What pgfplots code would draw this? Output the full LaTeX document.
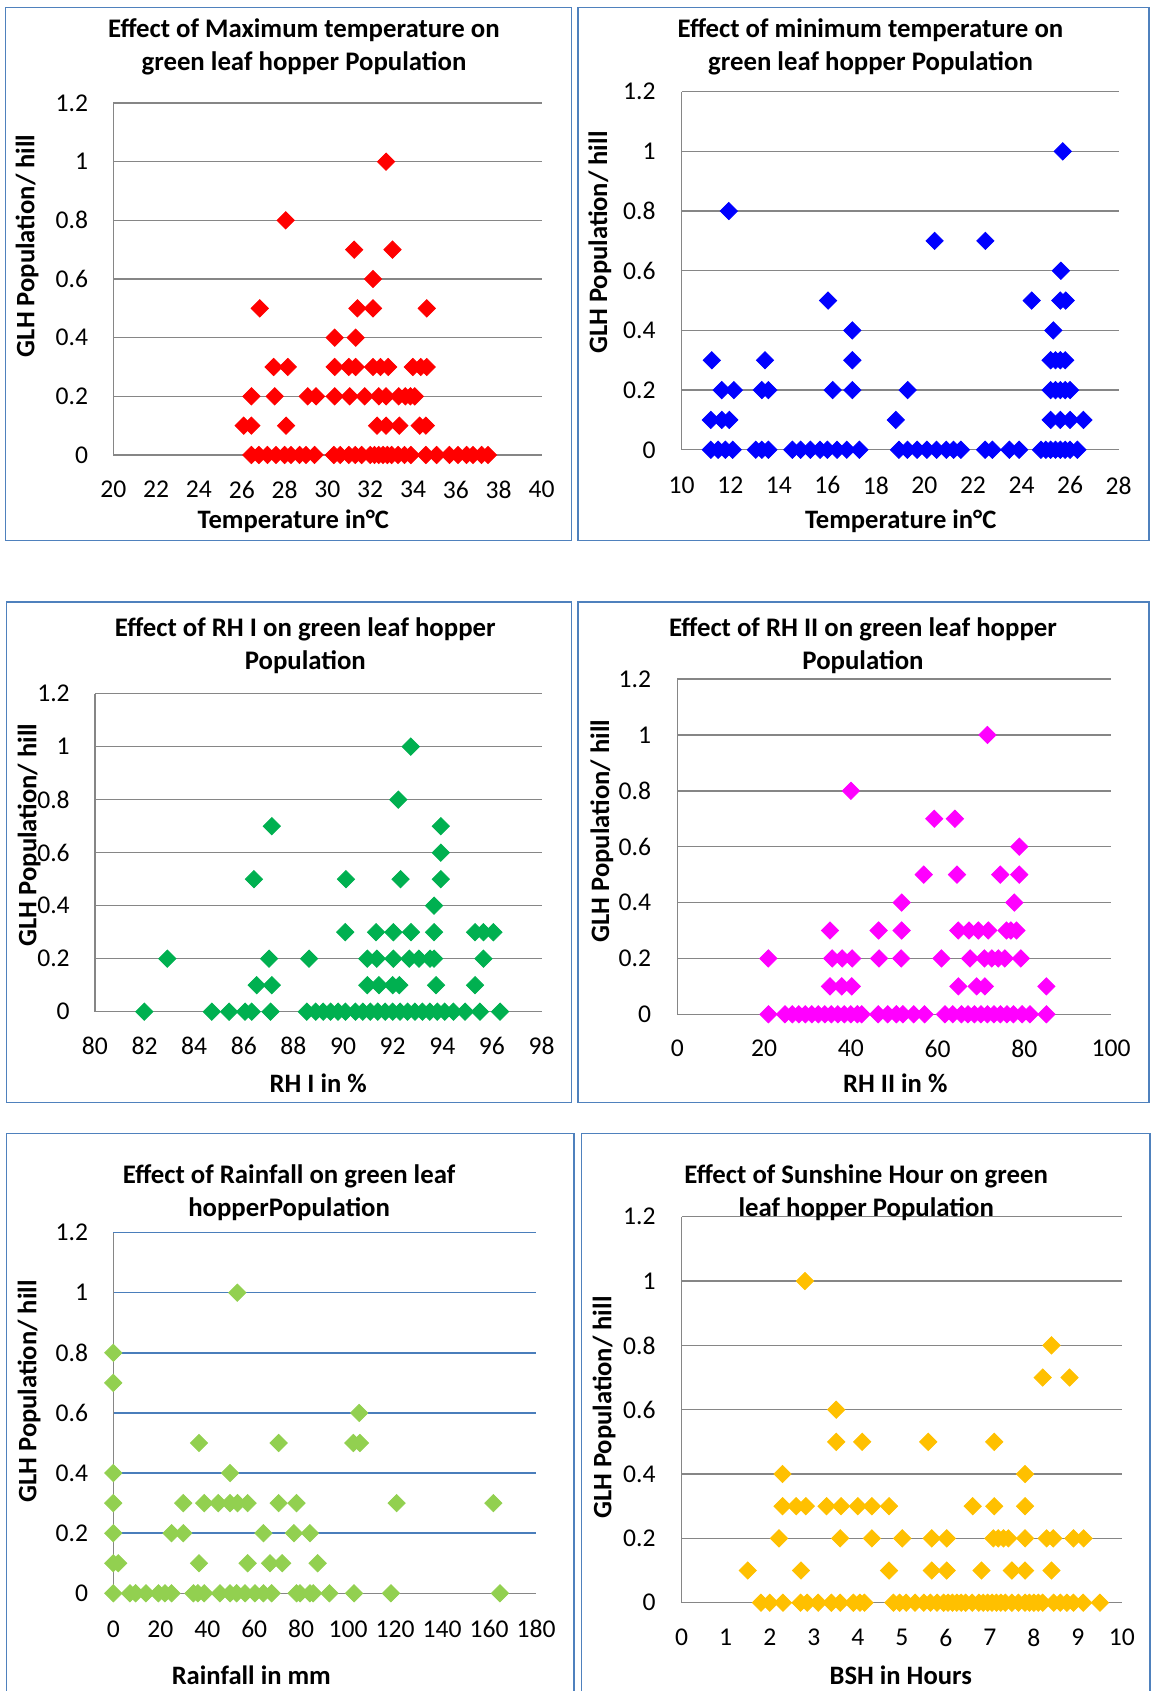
\documentclass[border=0pt]{standalone}
\usepackage{fontspec}
\setmainfont{Carlito}
\usepackage{pgfplots}
\pgfplotsset{compat=1.18}
\definecolor{framec}{RGB}{79,129,189}
\definecolor{gridgray}{RGB}{134,134,134}
\definecolor{gridblue}{RGB}{74,126,187}
\definecolor{cred}{RGB}{255,0,0}
\definecolor{cblue}{RGB}{0,0,255}
\definecolor{cmag}{RGB}{255,0,255}
\definecolor{cgreen}{RGB}{0,176,80}
\definecolor{clgreen}{RGB}{146,208,80}
\definecolor{cgold}{RGB}{255,192,0}
\pgfplotsset{
  every axis title shift=0pt,
  panel/.style={
    scale only axis, clip=false,
    axis lines*=left,
    axis line style={draw=gridgray, line width=0.7pt},
    ymajorgrids, major grid style={draw=gridgray, line width=0.7pt},
    ymin=0, ymax=1.2, ytick={0,0.2,0.4,0.6,0.8,1,1.2},
    major tick length=0pt,
    /pgf/number format/assume math mode=true,
    tick label style={font=\fontsize{12.8}{14}\selectfont},
    yticklabel style={anchor=east, inner sep=0pt, /pgf/number format/fixed, /pgf/number format/precision=1},
    xticklabel style={anchor=center, inner sep=0pt},
    label style={font=\bfseries\fontsize{13.3}{15}\selectfont, anchor=center},
    title style={font=\bfseries\fontsize{13.4}{16.4}\selectfont, align=center, anchor=center, yshift=-1pt},
    ylabel={GLH Population/ hill},
  },
  dia/.style={only marks, mark=square*, mark size=3.05pt, color=#1, mark options={rotate=45, fill=#1, draw=#1}},
}
\begin{document}
\begin{tikzpicture}
\useasboundingbox (0,0) rectangle (575.5pt,845.5pt);
% frames
\draw[framec, line width=0.75pt] (2.7pt,575.3pt) rectangle (285.85pt,841.75pt);
\draw[framec, line width=0.75pt] (289.1pt,575.3pt) rectangle (574.4pt,841.75pt);
\draw[framec, line width=0.75pt] (3.25pt,294.3pt) rectangle (285.85pt,544.55pt);
\draw[framec, line width=0.75pt] (289.1pt,294.3pt) rectangle (574.4pt,544.55pt);
\draw[framec, line width=0.75pt] (3.25pt,-3pt) -- (3.25pt,278.65pt) -- (286.95pt,278.65pt) -- (286.95pt,-3pt);
\draw[framec, line width=0.75pt] (290.7pt,-3pt) -- (290.7pt,278.65pt) -- (575.1pt,278.65pt) -- (575.1pt,-3pt);

% Panel 1
\begin{axis}[panel, at={(56.65pt,618pt)}, anchor=south west, width=214.1pt, height=176pt,
  xmin=20, xmax=40, xtick={20,22,...,40},
  xticklabel style={yshift=-17.35pt}, yticklabel style={xshift=-12.4pt},
  title={Effect of Maximum temperature on\\green leaf hopper Population},
  title style={at={(axis description cs:0.4453,1.1656)}},
  xlabel={Temperature in°C},
  xlabel style={at={(axis description cs:0.4206,-0.1875)}},
  ylabel style={at={(axis description cs:-0.2015,0.5938)}}]
\addplot[dia=cred] coordinates {
(32.74,1) (28.05,0.8) (31.25,0.7) (33.04,0.7) (32.13,0.6)
(26.84,0.5) (31.4,0.5) (32.13,0.5) (34.64,0.5)
(30.34,0.4) (31.32,0.4)
(27.49,0.3) (28.15,0.3) (30.34,0.3) (31.0,0.3) (31.32,0.3) (32.13,0.3) (32.48,0.3) (32.84,0.3) (33.99,0.3) (34.36,0.3) (34.64,0.3)
(26.45,0.2) (27.54,0.2) (29.08,0.2) (29.47,0.2) (30.34,0.2) (31.04,0.2) (31.74,0.2) (32.4,0.2) (32.74,0.2) (33.33,0.2) (33.64,0.2) (33.88,0.2) (34.08,0.2)
(26.09,0.1) (26.45,0.1) (28.07,0.1) (32.32,0.1) (32.74,0.1) (33.36,0.1) (34.31,0.1) (34.6,0.1)
(26.45,0) (26.8,0) (27.2,0) (27.6,0) (28.0,0) (28.3,0) (28.7,0) (29.0,0) (29.4,0)
(30.3,0) (30.6,0) (31.0,0) (31.3,0) (31.6,0) (32.0,0) (32.2,0) (32.4,0) (32.6,0) (32.8,0) (33.0,0) (33.3,0) (33.6,0) (33.9,0)
(34.6,0) (35.1,0) (35.7,0) (36.1,0) (36.5,0) (36.8,0) (37.2,0) (37.5,0)
};
\end{axis}

% Panel 2
\begin{axis}[panel, at={(340.85pt,620.6pt)}, anchor=south west, width=218.45pt, height=179.05pt,
  xmin=10, xmax=28, xtick={10,12,...,28},
  xticklabel style={yshift=-17.8pt}, yticklabel style={xshift=-12.9pt},
  title={Effect of minimum temperature on\\green leaf hopper Population},
  title style={at={(axis description cs:0.4321,1.1312)}},
  xlabel={Temperature in°C},
  xlabel style={at={(axis description cs:0.5013,-0.1988)}},
  ylabel style={at={(axis description cs:-0.1875,0.5783)}}]
\addplot[dia=cblue] coordinates {
(25.7,1) (11.94,0.8) (20.42,0.7) (22.51,0.7) (25.62,0.6)
(16.03,0.5) (24.42,0.5) (25.6,0.5) (25.82,0.5)
(17.03,0.4) (25.31,0.4)
(11.24,0.3) (13.43,0.3) (17.03,0.3) (25.2,0.3) (25.4,0.3) (25.6,0.3) (25.8,0.3)
(11.65,0.2) (12.15,0.2) (13.3,0.2) (13.57,0.2) (16.22,0.2) (17.03,0.2) (19.31,0.2) (25.2,0.2) (25.4,0.2) (25.6,0.2) (25.8,0.2) (26.0,0.2)
(11.2,0.1) (11.65,0.1) (11.96,0.1) (18.82,0.1) (25.2,0.1) (25.6,0.1) (26.0,0.1) (26.55,0.1)
(11.2,0) (11.5,0) (11.8,0) (12.1,0) (13.05,0) (13.3,0) (13.57,0)
(14.56,0) (14.9,0) (15.3,0) (15.7,0) (16.0,0) (16.4,0) (16.8,0) (17.32,0)
(18.95,0) (19.3,0) (19.7,0) (20.1,0) (20.5,0) (20.9,0) (21.2,0) (21.5,0)
(22.5,0) (22.8,0) (23.5,0) (23.9,0)
(24.8,0) (25.0,0) (25.2,0) (25.4,0) (25.6,0) (25.8,0) (26.0,0) (26.3,0)
};
\end{axis}

% Panel 3
\begin{axis}[panel, at={(47.45pt,339.65pt)}, anchor=south west, width=223.3pt, height=159pt,
  xmin=80, xmax=98, xtick={80,82,...,98},
  xticklabel style={yshift=-17.3pt}, yticklabel style={xshift=-12.4pt},
  title={Effect of RH I on green leaf hopper\\Population},
  title style={at={(axis description cs:0.4711,1.1582)}},
  xlabel={RH I in \%},
  xlabel style={at={(axis description cs:0.5,-0.2242)}},
  ylabel style={at={(axis description cs:-0.1473,0.5557)}}]
\addplot[dia=cgreen] coordinates {
(92.73,1) (92.23,0.8) (87.13,0.7) (93.94,0.7) (93.94,0.6)
(86.41,0.5) (90.12,0.5) (92.32,0.5) (93.94,0.5)
(93.67,0.4)
(90.09,0.3) (91.33,0.3) (92.03,0.3) (92.74,0.3) (93.67,0.3) (95.32,0.3) (95.66,0.3) (96.06,0.3)
(82.92,0.2) (87.02,0.2) (88.63,0.2) (90.98,0.2) (91.36,0.2) (92.03,0.2) (92.67,0.2) (93.06,0.2) (93.51,0.2) (93.67,0.2) (95.66,0.2)
(86.52,0.1) (87.13,0.1) (90.98,0.1) (91.45,0.1) (92.0,0.1) (92.27,0.1) (93.75,0.1) (95.32,0.1)
(81.99,0) (84.71,0) (85.41,0) (86.05,0) (86.32,0) (87.08,0)
(88.54,0) (88.9,0) (89.2,0) (89.5,0) (89.8,0) (90.1,0) (90.5,0) (90.8,0) (91.1,0) (91.4,0)
(91.7,0) (92.0,0) (92.3,0) (92.6,0) (92.9,0) (93.2,0) (93.5,0) (93.8,0) (94.1,0) (94.45,0)
(94.92,0) (95.52,0) (96.33,0)
};
\end{axis}

% Panel 4
\begin{axis}[panel, at={(338.7pt,338.35pt)}, anchor=south west, width=216.8pt, height=167.6pt,
  xmin=0, xmax=100, xtick={0,20,...,100},
  xticklabel style={yshift=-17.1pt}, yticklabel style={xshift=-12.95pt},
  title={Effect of RH II on green leaf hopper\\Population},
  title style={at={(axis description cs:0.4280,1.1065)}},
  xlabel={RH II in \%},
  xlabel style={at={(axis description cs:0.5025,-0.2050)}},
  ylabel style={at={(axis description cs:-0.1741,0.5462)}}]
\addplot[dia=cmag] coordinates {
(71.5,1) (40.03,0.8) (59.24,0.7) (64.0,0.7) (78.84,0.6)
(56.8,0.5) (64.47,0.5) (74.46,0.5) (78.84,0.5)
(51.72,0.4) (77.7,0.4)
(35.19,0.3) (46.4,0.3) (51.72,0.3) (64.78,0.3) (67.24,0.3) (69.4,0.3) (71.7,0.3) (75.9,0.3) (76.9,0.3) (78.2,0.3)
(20.97,0.2) (35.7,0.2) (38.0,0.2) (40.3,0.2) (46.5,0.2) (51.6,0.2) (60.9,0.2) (67.5,0.2) (70.8,0.2) (72.5,0.2) (74.0,0.2) (75.5,0.2) (79.2,0.2)
(35.2,0.1) (37.9,0.1) (40.2,0.1) (64.8,0.1) (69.0,0.1) (70.9,0.1) (85.1,0.1)
(21.0,0) (24.8,0) (26.5,0) (28.0,0) (29.5,0) (31.0,0) (32.5,0) (34.0,0) (35.5,0) (37.0,0) (38.5,0) (40.0,0) (41.5,0) (42.5,0)
(46.3,0) (48.5,0) (50.5,0) (52.0,0) (54.5,0) (57.0,0)
(61.7,0) (63.5,0) (65.5,0) (67.0,0) (68.5,0) (70.0,0) (71.5,0) (73.0,0) (74.5,0) (76.0,0) (77.5,0) (79.5,0) (81.3,0) (85.1,0)
};
\end{axis}

% Panel 5
\begin{axis}[panel, at={(56.65pt,48.85pt)}, anchor=south west, width=211.4pt, height=180.35pt,
  xmin=0, xmax=180, xtick={0,20,...,180},
  major grid style={draw=gridblue, line width=0.7pt},
  xticklabel style={yshift=-17.75pt}, yticklabel style={xshift=-12.4pt},
  title={Effect of Rainfall on green leaf\\hopperPopulation},
  title style={at={(axis description cs:0.4158,1.1171)}},
  xlabel={Rainfall in mm},
  xlabel style={at={(axis description cs:0.3264,-0.2271)}},
  ylabel style={at={(axis description cs:-0.1991,0.5595)}}]
\addplot[dia=clgreen] coordinates {
(52.8,1) (0,0.8) (0,0.7) (104.7,0.6)
(36.5,0.5) (70.4,0.5) (102.2,0.5) (105.0,0.5)
(0,0.4) (49.7,0.4)
(0,0.3) (29.8,0.3) (38.7,0.3) (44.7,0.3) (49.7,0.3) (52.9,0.3) (57.2,0.3) (70.4,0.3) (78.0,0.3) (120.6,0.3) (161.8,0.3)
(0,0.2) (24.8,0.2) (29.8,0.2) (63.9,0.2) (76.9,0.2) (83.7,0.2)
(0,0.1) (2.1,0.1) (36.5,0.1) (57.2,0.1) (66.7,0.1) (71.9,0.1) (87.0,0.1)
(0,0) (7.1,0) (9.5,0) (13.9,0) (19.2,0) (22.0,0) (24.8,0) (34.1,0) (36.0,0) (38.7,0) (45.4,0)
(49.7,0) (52.5,0) (56.1,0) (60.3,0) (63.9,0) (67.4,0) (78.0,0) (79.5,0) (83.7,0) (85.1,0) (92.0,0) (102.5,0) (118.2,0) (164.6,0)
};
\end{axis}

% Panel 6
\begin{axis}[panel, at={(340.85pt,44.15pt)}, anchor=south west, width=220.1pt, height=193pt,
  xmin=0, xmax=10, xtick={0,1,...,10},
  xticklabel style={yshift=-17.4pt}, yticklabel style={xshift=-12.9pt},
  title={Effect of Sunshine Hour on green\\leaf hopper Population},
  title style={at={(axis description cs:0.4191,1.0683)}},
  xlabel={BSH in Hours},
  xlabel style={at={(axis description cs:0.4975,-0.1878)}},
  ylabel style={at={(axis description cs:-0.1763,0.5052)}}]
\addplot[dia=cgold] coordinates {
(2.80,1) (8.40,0.8) (8.20,0.7) (8.81,0.7) (3.51,0.6)
(3.51,0.5) (4.10,0.5) (5.60,0.5) (7.10,0.5)
(2.29,0.4) (7.80,0.4)
(2.29,0.3) (2.60,0.3) (2.82,0.3) (3.29,0.3) (3.62,0.3) (4.0,0.3) (4.32,0.3) (4.71,0.3) (6.61,0.3) (7.10,0.3) (7.80,0.3)
(2.21,0.2) (3.60,0.2) (4.32,0.2) (5.01,0.2) (5.68,0.2) (6.02,0.2) (7.08,0.2) (7.19,0.2) (7.31,0.2) (7.42,0.2) (7.80,0.2) (8.29,0.2) (8.44,0.2) (8.9,0.2) (9.13,0.2)
(1.50,0.1) (2.71,0.1) (4.71,0.1) (5.68,0.1) (6.02,0.1) (6.81,0.1) (7.50,0.1) (7.80,0.1) (8.40,0.1)
(1.8,0) (2.0,0) (2.3,0) (2.7,0) (2.85,0) (3.1,0) (3.4,0) (3.6,0) (3.9,0) (4.05,0) (4.15,0)
(4.81,0) (4.95,0) (5.1,0) (5.3,0) (5.5,0) (5.65,0) (5.8,0) (5.95,0) (6.05,0) (6.15,0) (6.25,0) (6.35,0) (6.45,0)
(6.6,0) (6.75,0) (6.85,0) (6.95,0) (7.05,0) (7.15,0) (7.25,0) (7.35,0) (7.5,0) (7.65,0) (7.8,0) (7.9,0) (8.0,0)
(8.1,0) (8.2,0) (8.45,0) (8.6,0) (8.75,0) (8.9,0) (9.12,0) (9.5,0)
};
\end{axis}
\end{tikzpicture}
\end{document}
